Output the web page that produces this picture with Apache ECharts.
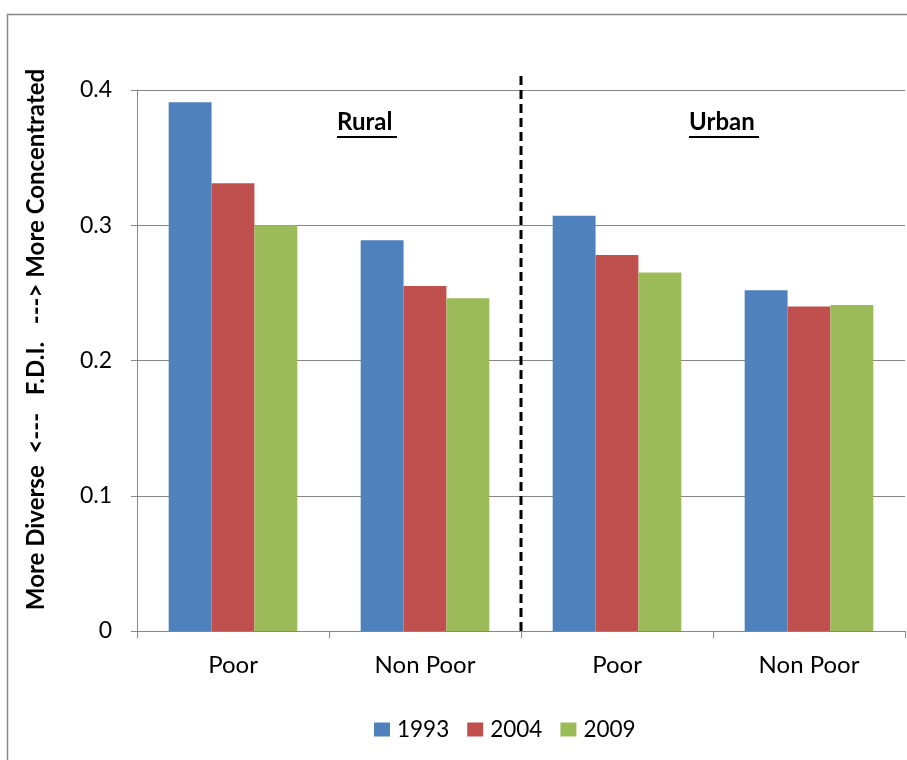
<!DOCTYPE html>
<html><head><meta charset="utf-8">
<script src="https://cdn.jsdelivr.net/npm/echarts@6/dist/echarts.min.js"></script>
<style>html,body{margin:0;padding:0;background:#fff}#c{width:907px;height:760px}</style>
</head><body><div id="c"></div>
<script>
const categories = ['Poor', 'Non Poor', 'Poor', 'Non Poor'];
const years = ['1993', '2004', '2009'];
const v1993 = [0.391, 0.289, 0.307, 0.252];
const v2004 = [0.331, 0.255, 0.278, 0.240];
const v2009 = [0.300, 0.246, 0.265, 0.241];
const yTicks = [0, 0.1, 0.2, 0.3, 0.4];
const dividerX = [2, 2];
const dividerY = [0, 0.411];
const colors = ['#4F81BD', '#C0504D', '#9BBB59'];
const FONT = 'Lato, "Open Sans", sans-serif';

const chart = echarts.init(document.getElementById('c'));
const values = [v1993, v2004, v2009];
const barSeries = years.map((y, i) => ({
  name: y, type: 'bar', data: values[i], barGap: '0%', barCategoryGap: '33%',
  itemStyle: { color: colors[i] }, xAxisIndex: 0, yAxisIndex: 0
}));
chart.setOption({
  animation: false,
  textStyle: { fontFamily: FONT },
  grid: { left: 137, right: 2, top: 90, bottom: 129 },
  legend: {
    data: years, top: 713, left: 369, itemWidth: 16, itemHeight: 14, itemGap: 18,
    icon: 'rect', textStyle: { fontSize: 22.5, color: '#000', fontFamily: FONT, padding: [0, 0, 0, 2] }
  },
  xAxis: [{
    type: 'category', data: categories,
    axisLine: { lineStyle: { color: '#868686', width: 1 } },
    axisTick: { show: true, length: 7, lineStyle: { color: '#868686' } },
    axisLabel: { fontSize: 24, color: '#000', margin: 22, fontFamily: FONT }
  }, {
    type: 'value', min: 0, max: 4, show: false
  }],
  yAxis: {
    type: 'value', min: 0, max: 0.4, interval: 0.1,
    name: 'More Diverse  <---   F.D.I.   ---> More Concentrated',
    nameLocation: 'middle', nameGap: 89, nameRotate: 90,
    nameTextStyle: { fontSize: 24, fontWeight: 'bold', color: '#000', fontFamily: FONT, padding: [0, 0, 0, 42] },
    axisLine: { show: true, lineStyle: { color: '#868686' } },
    axisTick: { show: true, length: 6, lineStyle: { color: '#868686' } },
    splitLine: { lineStyle: { color: '#868686', width: 1 } },
    axisLabel: { fontSize: 23, color: '#000', margin: 25, fontFamily: FONT,
      formatter: v => { const t = yTicks.find(x => Math.abs(x - v) < 1e-9); return t === 0 ? '0' : String(t); } }
  },
  series: barSeries.concat([{
    type: 'line', xAxisIndex: 1, yAxisIndex: 0, silent: true, clip: false,
    data: dividerX.map((x, i) => [x, dividerY[i]]),
    showSymbol: false, symbol: 'none',
    lineStyle: { color: '#000', type: [9, 5], width: 3 }, z: 5
  }]),
  graphic: [
    { type: 'rect', left: 5, top: 12, shape: { width: 930, height: 800 }, style: { fill: 'none', stroke: '#888', lineWidth: 1.5 }, z: -1 },
    { type: 'text', left: 337, top: 110, style: { text: 'Rural', font: 'bold 24px ' + FONT, fill: '#000' } },
    { type: 'rect', left: 337, top: 136, shape: { width: 60, height: 2 }, style: { fill: '#000' } },
    { type: 'text', left: 689, top: 110, style: { text: 'Urban', font: 'bold 24px ' + FONT, fill: '#000' } },
    { type: 'rect', left: 689, top: 136, shape: { width: 70, height: 2 }, style: { fill: '#000' } }
  ]
});
</script></body></html>
